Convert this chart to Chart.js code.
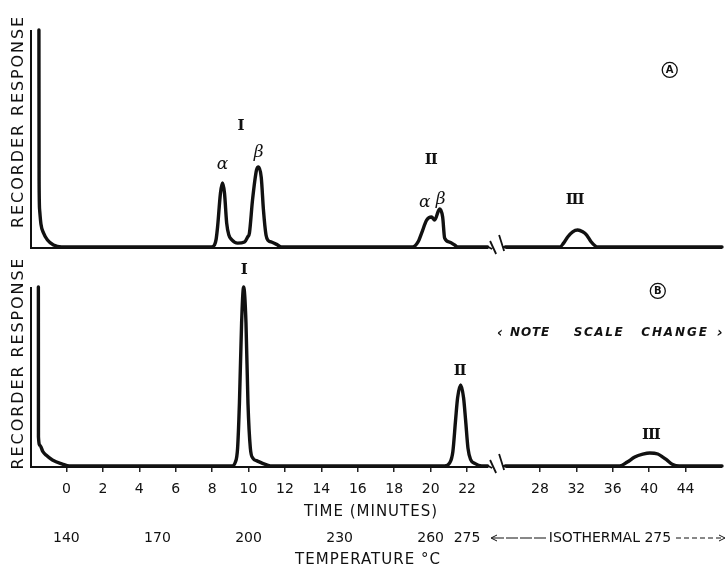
<!DOCTYPE html>
<html><head><meta charset="utf-8">
<script src="https://cdn.jsdelivr.net/npm/chart.js@4.4.1/dist/chart.umd.min.js"></script>
<style>
html,body{margin:0;padding:0;background:#fff;width:727px;height:568px;overflow:hidden}
canvas{position:absolute;left:0;display:block}
#cA{top:0}
#cB{top:260px}
</style></head><body>
<canvas id="cA" width="727" height="260"></canvas>
<canvas id="cB" width="727" height="308"></canvas>
<script>
// ---------------- DATA ----------------
// Chromatogram A (time in minutes, recorder response in % of panel height); null = axis break
const timeA = [-1.51,-1.50,-1.47,-1.40,-1.26,-1.04,-0.71,-0.27,
  7.97,8.13,8.22,8.30,8.46,8.57,8.68,8.80,8.92,9.07,9.40,9.78,9.95,
  10.05,10.22,10.44,10.55,10.70,10.82,10.96,11.08,11.26,11.54,11.81,
  19.01,19.30,19.51,19.78,20.05,20.22,20.49,20.66,20.77,21.04,21.32,21.48,23.13,
  23.6,
  24.2,30.2,30.6,31.05,31.6,32.15,32.7,33.14,33.6,34.02,34.35,48.0];
const respA = [100,30.9,17,10.6,6.5,3.2,0.9,0,
  0,0.9,3.5,9.2,24.9,29.5,24.9,11,5.5,3.4,1.8,2.3,4.6,
  6.5,21.7,35.5,36.9,32,17,5.5,3,2.3,1.2,0,
  0,2.2,6.5,12.4,13.8,12.4,17.5,13.8,4.1,2.3,0.9,0,0,
  null,
  0,0,1.8,4.6,7,7.8,7,5.5,2.5,0.7,0,0];

// Chromatogram B (note scale change)
const timeB = [-1.54,-1.535,-1.45,-1.30,-1.12,-0.77,-0.22,0.16,
  9.07,9.28,9.40,9.50,9.62,9.73,9.86,9.97,10.10,10.25,10.44,10.77,11.04,11.26,
  20.77,21.05,21.22,21.37,21.48,21.65,21.81,21.92,22.05,22.20,22.42,22.80,23.13,
  23.6,
  24.2,36.77,37.6,38.42,39.3,40.07,40.95,41.5,41.93,42.59,43.3,48.0];
const respB = [100,16.2,11.5,8.2,6.1,3.4,1.1,0,
  0,2.2,10,35,80,100,80,35,10,4.2,3,1.5,0.5,0,
  0,1.8,8,25.7,38,45.3,38,25.7,10,3.5,1.5,0,0,
  null,
  0,0,2.2,5,6.6,7.3,6.7,5,3.4,0.8,0,0];

// Time axis ticks (minutes) and temperature programme labels
const tickTimes = [0,2,4,6,8,10,12,14,16,18,20,22,28,32,36,40,44];
const tempLabels = ['140','170','200','230','260','275'];
const tempTimes  = [0,5,10,15,20,22];
const isoText = 'ISOTHERMAL 275';

// Peak labels (positioned in data coordinates)
const peakLabelsA = [
  {text:'I',   t:9.56,  v:55.8, kind:'roman'},
  {text:'α',   t:8.57,  v:37.8, kind:'greek'},
  {text:'β',   t:10.55, v:43.3, kind:'greek'},
  {text:'II',  t:20.0,  v:40.1, kind:'roman'},
  {text:'α',   t:19.67, v:20.3, kind:'greek'},
  {text:'β',   t:20.55, v:21.7, kind:'greek'},
  {text:'III', t:31.8,  v:21.7, kind:'roman'}
];
const peakLabelsB = [
  {text:'I',   t:9.73,  v:109.5, kind:'roman'},
  {text:'II',  t:21.59, v:53.1,  kind:'roman'},
  {text:'III', t:40.18, v:17.3,  kind:'roman'}
];

// ---------------- AXIS BREAK MAPPING ----------------
const BREAK_AT = 23.5;        // last uncompressed minute
const BREAK_MARK = 23.65;     // axis position of the "//" mark
function toAxis(t){ return t <= BREAK_AT ? t : 26 + (t - 28) / 2; }
function fromAxis(u){ return u <= BREAK_AT ? u : 28 + (u - 26) * 2; }

function pts(ts, vs){ return ts.map((t,i)=>({x: toAxis(t), y: vs[i]})); }

const INK = '#111';
const SANS = "'DejaVu Sans', 'Liberation Sans', sans-serif";
const SERIF = "'DejaVu Serif', 'Liberation Serif', serif";

function drawText(ctx, s, x, y, font, align, spacing){
  ctx.save();
  ctx.font = font;
  ctx.fillStyle = INK;
  ctx.textAlign = align || 'center';
  ctx.textBaseline = 'middle';
  if ('letterSpacing' in ctx) ctx.letterSpacing = (spacing||0) + 'px';
  ctx.fillText(s, x, y);
  ctx.restore();
}

function decorPlugin(panel){
  return {
    id: 'decor' + panel,
    beforeDatasetsDraw(chart){
      const {ctx, chartArea:a, scales:{x, y}} = chart;
      const y0 = y.getPixelForValue(0);
      const bx = x.getPixelForValue(BREAK_MARK);
      ctx.save();
      ctx.strokeStyle = INK; ctx.lineCap = 'butt';
      ctx.lineWidth = 2;
      ctx.beginPath();
      ctx.moveTo(a.left + 1, a.top);
      ctx.lineTo(a.left + 1, y0 + 1);
      ctx.lineTo(bx - 9, y0 + 1);
      ctx.moveTo(bx + 9, y0 + 1);
      ctx.lineTo(a.right, y0 + 1);
      ctx.stroke();
      // break marks
      ctx.lineWidth = 1.8;
      ctx.beginPath();
      ctx.moveTo(bx - 7, y0 - 6); ctx.lineTo(bx - 1, y0 + 7);
      ctx.moveTo(bx + 2, y0 - 12); ctx.lineTo(bx + 7, y0 + 4);
      ctx.moveTo(bx - 9, y0); ctx.lineTo(bx - 5, y0 + 2);
      ctx.moveTo(bx + 5, y0); ctx.lineTo(bx + 9, y0);
      ctx.stroke();
      ctx.restore();
      // y axis title
      ctx.save();
      const cy = panel === 'A' ? 121.5 : 103;
      ctx.translate(19, cy);
      ctx.rotate(-Math.PI / 2);
      drawText(ctx, 'RECORDER RESPONSE', 0, 0, '16px ' + SANS, 'center', 1.9);
      ctx.restore();
    },
    afterDatasetsDraw(chart){
      const {ctx, chartArea:a, scales:{x, y}} = chart;
      const labels = panel === 'A' ? peakLabelsA : peakLabelsB;
      labels.forEach(l => {
        const px = x.getPixelForValue(toAxis(l.t));
        const py = y.getPixelForValue(l.v);
        if (l.kind === 'roman') drawText(ctx, l.text, px, py, 'bold 15px ' + SERIF, 'center', -1.2);
        else drawText(ctx, l.text, px, py, 'italic 17px ' + SERIF, 'center', 0);
      });
      // circled panel letter
      const circ = panel === 'A' ? {t:42.26, v:81.6, s:'A'} : {t:40.95, v:97.8, s:'B'};
      const cx = x.getPixelForValue(toAxis(circ.t));
      const cyy = y.getPixelForValue(circ.v);
      ctx.save();
      ctx.strokeStyle = INK; ctx.lineWidth = 1.3;
      ctx.beginPath(); ctx.arc(cx, cyy, 7.5, 0, Math.PI * 2); ctx.stroke();
      ctx.restore();
      drawText(ctx, circ.s, cx, cyy + 0.5, 'bold 10px ' + SANS, 'center', 0);

      if (panel === 'B') {
        // note scale change
        const ny = y.getPixelForValue(74.3);
        const f = 'italic bold 12px ' + SANS;
        drawText(ctx, '‹', a.left + 470, ny, 'italic bold 14px ' + SANS, 'center', 0);
        drawText(ctx, 'NOTE', a.left + 500, ny, f, 'center', 0.8);
        drawText(ctx, 'SCALE', a.left + 569, ny, f, 'center', 1.6);
        drawText(ctx, 'CHANGE', a.left + 645, ny, f, 'center', 1.9);
        drawText(ctx, '›', a.left + 690, ny, 'italic bold 14px ' + SANS, 'center', 0);

        const b = a.bottom;
        drawText(ctx, 'TIME (MINUTES)', a.left + 341, b + 46, '15px ' + SANS, 'center', 1);
        // temperature row
        const ty = b + 72;
        tempLabels.forEach((s, i) => {
          drawText(ctx, s, x.getPixelForValue(toAxis(tempTimes[i])), ty, '14px ' + SANS, 'center', 0);
        });
        drawText(ctx, isoText, 610, ty, '14px ' + SANS, 'center', 0);
        ctx.save();
        ctx.strokeStyle = INK; ctx.lineWidth = 1;
        ctx.setLineDash([12, 2]);
        ctx.beginPath(); ctx.moveTo(492, ty); ctx.lineTo(546, ty); ctx.stroke();
        ctx.setLineDash([5, 3]);
        ctx.beginPath(); ctx.moveTo(676, ty); ctx.lineTo(724, ty); ctx.stroke();
        ctx.setLineDash([]);
        ctx.beginPath();
        ctx.moveTo(497, ty - 3); ctx.lineTo(491, ty); ctx.lineTo(497, ty + 3);
        ctx.moveTo(719, ty - 3); ctx.lineTo(725, ty); ctx.lineTo(719, ty + 3);
        ctx.stroke();
        ctx.restore();
        drawText(ctx, 'TEMPERATURE °C', a.left + 338, b + 94, '15px ' + SANS, 'center', 1);
      }
    }
  };
}

function traceDataset(data){
  return {
    data, borderColor: INK, borderWidth: 3.4, pointRadius: 0, fill: false,
    clip: false, spanGaps: false, cubicInterpolationMode: 'monotone',
    borderJoinStyle: 'round', borderCapStyle: 'round'
  };
}

Chart.defaults.font.family = SANS;
Chart.defaults.color = INK;

new Chart(document.getElementById('cA'), {
  type: 'line',
  data: { datasets: [traceDataset(pts(timeA, respA))] },
  options: {
    responsive: false, animation: false, devicePixelRatio: 1,
    layout: { padding: { top: 30, bottom: 13, left: 30, right: 5 } },
    plugins: { legend: { display: false }, tooltip: { enabled: false } },
    scales: {
      x: { type: 'linear', min: -2, max: 36, display: false },
      y: { min: 0, max: 100, display: false }
    }
  },
  plugins: [decorPlugin('A')]
});

new Chart(document.getElementById('cB'), {
  type: 'line',
  data: { datasets: [traceDataset(pts(timeB, respB))] },
  options: {
    responsive: false, animation: false, devicePixelRatio: 1,
    layout: { padding: { top: 27, bottom: 0, left: 30, right: 5 } },
    plugins: { legend: { display: false }, tooltip: { enabled: false } },
    scales: {
      x: {
        type: 'linear', min: -2, max: 36, display: true,
        afterBuildTicks(s){ s.ticks = tickTimes.map(t => ({ value: toAxis(t) })); },
        afterFit(s){ s.height = 102; },
        ticks: {
          autoSkip: false, maxRotation: 0, minRotation: 0, padding: 9,
          font: { size: 14, family: SANS }, color: INK,
          callback: (v) => String(Math.round(fromAxis(v)))
        },
        grid: { display: true, drawOnChartArea: false, drawTicks: true, tickLength: 6, color: '#222', lineWidth: 1.5 },
        border: { display: false }
      },
      y: { min: 0, max: 100, display: false }
    }
  },
  plugins: [decorPlugin('B')]
});
</script>
</body></html>
